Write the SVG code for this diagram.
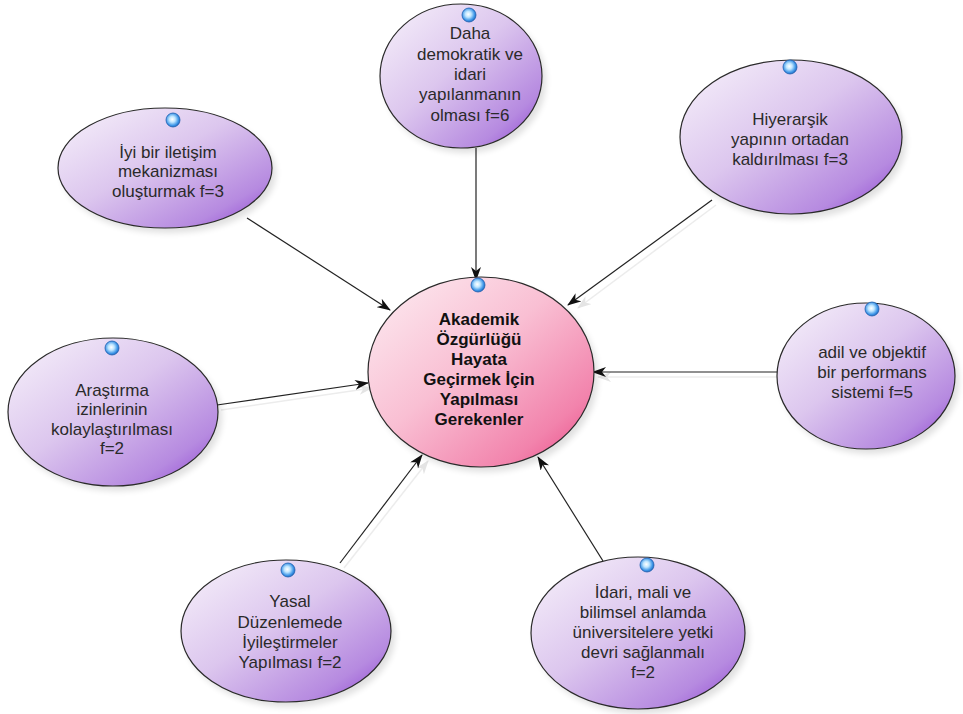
<svg xmlns="http://www.w3.org/2000/svg" width="963" height="714" viewBox="0 0 963 714">
  <defs>
    <linearGradient id="gPurple" x1="0" y1="0" x2="1" y2="1">
      <stop offset="0" stop-color="#f8f3fb"/>
      <stop offset="0.45" stop-color="#dcc6ee"/>
      <stop offset="0.8" stop-color="#b68ae0"/>
      <stop offset="1" stop-color="#8c3fd2"/>
    </linearGradient>
    <linearGradient id="gPink" x1="0" y1="0" x2="1" y2="1">
      <stop offset="0" stop-color="#fdeef3"/>
      <stop offset="0.45" stop-color="#f9bfd3"/>
      <stop offset="0.8" stop-color="#f283ac"/>
      <stop offset="1" stop-color="#e84483"/>
    </linearGradient>
    <radialGradient id="gDot" cx="0.45" cy="0.45" r="0.6">
      <stop offset="0" stop-color="#ffffff"/>
      <stop offset="0.35" stop-color="#bfe6ff"/>
      <stop offset="0.75" stop-color="#3a93e6"/>
      <stop offset="1" stop-color="#1f5fb0"/>
    </radialGradient>
    <filter id="soft" x="-20%" y="-20%" width="140%" height="140%">
      <feGaussianBlur stdDeviation="3"/>
    </filter>
    <marker id="arrow" viewBox="0 0 14 10" refX="13" refY="5" markerWidth="14" markerHeight="10" markerUnits="userSpaceOnUse" orient="auto">
      <path d="M0,0 L14,5 L0,10 L4,5 z" fill="#111"/>
    </marker>
    <marker id="arrowShade" viewBox="0 0 14 10" refX="13" refY="5" markerWidth="14" markerHeight="10" markerUnits="userSpaceOnUse" orient="auto">
      <path d="M0,0 L14,5 L0,10 L4,5 z" fill="#e4e4e4"/>
    </marker>
  </defs>
  <style>
    .node { stroke: #2a2a2a; stroke-width: 1.2; }
    .purple { fill: url(#gPurple); }
    .pink { fill: url(#gPink); }
    .shadow { fill: #000; opacity: 0.12; filter: url(#soft); }
    .dot { fill: url(#gDot); stroke: #1f5fb0; stroke-width: 0.8; }
    .label { font-family: "Liberation Sans", Arial, sans-serif; font-size: 17px; fill: #2a2a2a; text-anchor: middle; }
    .title { font-family: "Liberation Sans", Arial, sans-serif; font-size: 17px; font-weight: bold; fill: #111; text-anchor: middle; }
    .edge { stroke: #222; stroke-width: 1.2; fill: none; marker-end: url(#arrow); }
    .edgeShade { stroke: #ececec; stroke-width: 1.5; fill: none; marker-end: url(#arrowShade); }
  </style>

  <rect x="0" y="0" width="963" height="714" fill="#ffffff"/>

  <!-- connector shadows -->
  <g id="connector-shadows">
    <path class="edgeShade" d="M716,205 L578,308"/>
    <path class="edgeShade" d="M781,377 L598,377"/>
    <path class="edgeShade" d="M344,568 L428,461"/>
    <path class="edgeShade" d="M221,410 L372,388"/>
  </g>

  <!-- connectors -->
  <g id="connectors">
    <path class="edge" d="M247,218 L390,310"/>
    <path class="edge" d="M476,148 L476,280"/>
    <path class="edge" d="M712,200 L568,305"/>
    <path class="edge" d="M777,372 L593,372"/>
    <path class="edge" d="M217,405 L368,383"/>
    <path class="edge" d="M340,563 L422,455"/>
    <path class="edge" d="M603,561 L538,457"/>
  </g>

  <!-- central node -->
  <g id="node-center">
    <ellipse class="shadow" cx="485" cy="377" rx="113" ry="95"/>
    <ellipse class="node pink" cx="481" cy="372" rx="113" ry="95"/>
    <circle class="dot" cx="478" cy="285" r="7"/>
    <text class="title" x="479" y="325">Akademik</text>
    <text class="title" x="479" y="345">Özgürlüğü</text>
    <text class="title" x="479" y="365">Hayata</text>
    <text class="title" x="479" y="385">Geçirmek İçin</text>
    <text class="title" x="479" y="405">Yapılması</text>
    <text class="title" x="479" y="425">Gerekenler</text>
  </g>

  <g id="node-daha">
    <ellipse class="shadow" cx="465" cy="81" rx="81" ry="72"/>
    <ellipse class="node purple" cx="461" cy="76" rx="81" ry="72"/>
    <circle class="dot" cx="469" cy="15" r="7"/>
    <text class="label" x="470" y="39">Daha</text>
    <text class="label" x="470" y="60">demokratik ve</text>
    <text class="label" x="470" y="80">idari</text>
    <text class="label" x="470" y="100">yapılanmanın</text>
    <text class="label" x="470" y="121">olması f=6</text>
  </g>

  <g id="node-iletisim">
    <ellipse class="shadow" cx="169" cy="173" rx="107" ry="60"/>
    <ellipse class="node purple" cx="165" cy="168" rx="107" ry="60"/>
    <circle class="dot" cx="173" cy="120" r="7"/>
    <text class="label" x="168" y="158">İyi bir iletişim</text>
    <text class="label" x="168" y="177">mekanizması</text>
    <text class="label" x="168" y="197">oluşturmak f=3</text>
  </g>

  <g id="node-hiyerarsik">
    <ellipse class="shadow" cx="795" cy="142" rx="111" ry="77"/>
    <ellipse class="node purple" cx="791" cy="137" rx="111" ry="77"/>
    <circle class="dot" cx="790" cy="67" r="7"/>
    <text class="label" x="790" y="125">Hiyerarşik</text>
    <text class="label" x="790" y="145">yapının ortadan</text>
    <text class="label" x="790" y="165">kaldırılması f=3</text>
  </g>

  <g id="node-arastirma">
    <ellipse class="shadow" cx="117" cy="417" rx="105" ry="74"/>
    <ellipse class="node purple" cx="113" cy="412" rx="105" ry="74"/>
    <circle class="dot" cx="112" cy="348" r="7"/>
    <text class="label" x="112" y="396">Araştırma</text>
    <text class="label" x="112" y="415">izinlerinin</text>
    <text class="label" x="112" y="435">kolaylaştırılması</text>
    <text class="label" x="112" y="454">f=2</text>
  </g>

  <g id="node-performans">
    <ellipse class="shadow" cx="870" cy="381" rx="89" ry="73"/>
    <ellipse class="node purple" cx="866" cy="376" rx="89" ry="73"/>
    <circle class="dot" cx="872" cy="309" r="7"/>
    <text class="label" x="872" y="358">adil ve objektif</text>
    <text class="label" x="872" y="378">bir performans</text>
    <text class="label" x="872" y="398">sistemi f=5</text>
  </g>

  <g id="node-yasal">
    <ellipse class="shadow" cx="290" cy="636" rx="105" ry="71"/>
    <ellipse class="node purple" cx="286" cy="631" rx="105" ry="71"/>
    <circle class="dot" cx="288" cy="570" r="7"/>
    <text class="label" x="290" y="607">Yasal</text>
    <text class="label" x="290" y="628">Düzenlemede</text>
    <text class="label" x="290" y="648">İyileştirmeler</text>
    <text class="label" x="290" y="668">Yapılması f=2</text>
  </g>

  <g id="node-idari">
    <ellipse class="shadow" cx="642" cy="638" rx="107" ry="76"/>
    <ellipse class="node purple" cx="638" cy="633" rx="107" ry="76"/>
    <circle class="dot" cx="647" cy="565" r="7"/>
    <text class="label" x="643" y="598">İdari, mali ve</text>
    <text class="label" x="643" y="618">bilimsel anlamda</text>
    <text class="label" x="643" y="638">üniversitelere yetki</text>
    <text class="label" x="643" y="658">devri sağlanmalı</text>
    <text class="label" x="643" y="678">f=2</text>
  </g>
</svg>
